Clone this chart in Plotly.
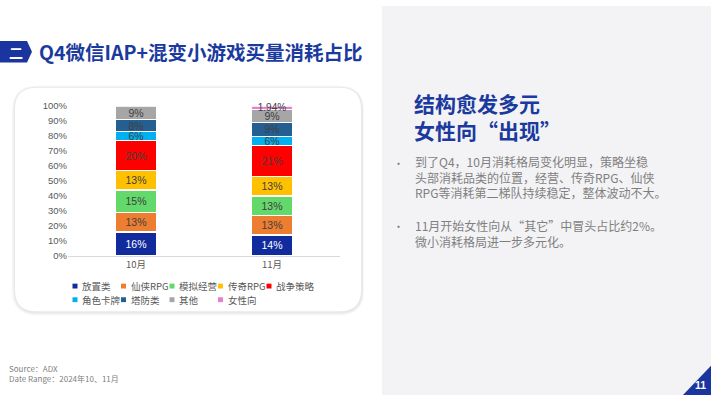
import plotly.graph_objects as go

W, H = 711, 400

months = ["10月", "11月"]
categories = ["放置类", "仙侠RPG", "模拟经营", "传奇RPG", "战争策略", "角色卡牌", "塔防类", "其他", "女性向"]
oct_values = [16, 13, 15, 13, 20, 6, 8, 9, None]
nov_values = [14, 13, 13, 13, 21, 6, 9, 9, 1.94]
colors = ["#112b9c", "#ed7d31", "#63d96b", "#ffc000", "#ff0000", "#00b0f0", "#255e91", "#a6a6a6", "#e67fce"]
y_ticks = [0, 10, 20, 30, 40, 50, 60, 70, 80, 90, 100]
y_tick_labels = [f"{t}%" for t in y_ticks]

title_text = "Q4微信IAP+混变小游戏买量消耗占比"
heading_lines = ["结构愈发多元", "女性向“出现”"]
bullet1 = ["到了Q4，10月消耗格局变化明显，策略坐稳", "头部消耗品类的位置，经营、传奇RPG、仙侠", "RPG等消耗第二梯队持续稳定，整体波动不大。"]
bullet2 = ["11月开始女性向从“其它”中冒头占比约2%。", "微小消耗格局进一步多元化。"]

CJK = "Noto Sans CJK SC, Liberation Sans, sans-serif"
LAT = "Liberation Sans, Arial, Noto Sans CJK SC, sans-serif"

def px(x):
    return x / W

def py(y):
    return 1 - y / H

def rrect(x0, y0, x1, y1, r):
    return (
        f"M {px(x0 + r)},{py(y0)} L {px(x1 - r)},{py(y0)} Q {px(x1)},{py(y0)} {px(x1)},{py(y0 + r)} "
        f"L {px(x1)},{py(y1 - r)} Q {px(x1)},{py(y1)} {px(x1 - r)},{py(y1)} "
        f"L {px(x0 + r)},{py(y1)} Q {px(x0)},{py(y1)} {px(x0)},{py(y1 - r)} "
        f"L {px(x0)},{py(y0 + r)} Q {px(x0)},{py(y0)} {px(x0 + r)},{py(y0)} Z"
    )

fig = go.Figure()

for i, cat in enumerate(categories):
    vals = [oct_values[i], nov_values[i]]
    txt = ["" if v is None else f"{v:g}%" for v in vals]
    fig.add_trace(go.Bar(
        name=cat, x=months, y=vals, text=txt,
        textposition="inside", insidetextanchor="middle", constraintext="none",
        textfont=dict(family=LAT, size=10 if i == 8 else 10.5, color="#ffffff" if i == 0 else "#404040"),
        marker=dict(color=colors[i], line=dict(color="#ffffff", width=1.2)),
        width=0.3, showlegend=False, cliponaxis=False,
    ))

shapes = []
shapes.append(dict(type="rect", xref="paper", yref="paper", x0=px(382), x1=1, y0=0, y1=1,
                   fillcolor="#f3f3f5", line=dict(width=0), layer="below"))
shapes.append(dict(type="path", xref="paper", yref="paper", path=rrect(12, 82, 364, 318, 25),
                   fillcolor="rgba(0,0,0,0.035)", line=dict(width=0), layer="below"))
shapes.append(dict(type="path", xref="paper", yref="paper", path=rrect(13.5, 83, 363, 316.5, 24),
                   fillcolor="rgba(0,0,0,0.05)", line=dict(width=0), layer="below"))
shapes.append(dict(type="path", xref="paper", yref="paper", path=rrect(15, 84, 361, 314, 22),
                   fillcolor="#ffffff", line=dict(width=0), layer="below"))
badge = f"M {px(0)},{py(36)} L {px(27)},{py(36)} L {px(32)},{py(47)} L {px(27)},{py(58)} L {px(0)},{py(58)} Z"
shapes.append(dict(type="path", xref="paper", yref="paper", path=badge,
                   fillcolor="#1a35a0", line=dict(width=0)))
tri = f"M {px(683)},{py(400)} L {px(711)},{py(370)} L {px(711)},{py(400)} Z"
shapes.append(dict(type="path", xref="paper", yref="paper", path=tri,
                   fillcolor="#1a35a0", line=dict(width=0)))

annotations = []
def ann(x, y, text, size, color, family=CJK, xanchor="left", yanchor="middle", bold=False, align="left"):
    t = f"<b>{text}</b>" if bold else text
    annotations.append(dict(x=px(x), y=py(y), xref="paper", yref="paper", text=t, showarrow=False,
                            xanchor=xanchor, yanchor=yanchor, align=align,
                            font=dict(family=family, size=size, color=color)))

ann(15.5, 47, "二", 14, "#ffffff", xanchor="center", bold=True)
ann(37, 47, title_text, 19.5, "#1b3a9e", bold=True)

for i, cat in enumerate(categories):
    row, col = divmod(i, 5)
    cx = 75 + 48.5 * col
    cy = 288 + 14 * row
    shapes.append(dict(type="rect", xref="paper", yref="paper",
                       x0=px(cx - 2.5), x1=px(cx + 2.5), y0=py(cy + 2.5), y1=py(cy - 2.5),
                       fillcolor=colors[i], line=dict(width=0)))
    ann(cx + 5, cy, cat, 9.5, "#595959")

ann(412, 113.5, "<br>".join(f"<b>{h}</b>" for h in heading_lines), 21, "#1b3a9e")
ann(413, 176, "<br>".join(bullet1), 12, "#7f7f7f")
ann(391, 161, "•", 11, "#7f7f7f")
ann(413, 233.5, "<br>".join(bullet2), 12, "#7f7f7f")
ann(391, 226, "•", 11, "#7f7f7f")

ann(7, 378, "Source：ADX<br>Date Range：2024年10、11月", 8, "#7f7f7f")
ann(700, 390, "11", 10.5, "#ffffff", family=LAT, xanchor="center", bold=True)

fig.update_layout(
    width=W, height=H,
    margin=dict(l=0, r=0, t=0, b=0),
    paper_bgcolor="#ffffff", plot_bgcolor="rgba(0,0,0,0)",
    barmode="stack", bargap=0.7,
    showlegend=False,
    shapes=shapes, annotations=annotations,
    xaxis=dict(domain=[px(68), px(340)], showline=True, linecolor="#d9d9d9", linewidth=1,
               showgrid=False, zeroline=False, ticks="",
               tickfont=dict(family=CJK, size=9.5, color="#595959"), fixedrange=True),
    yaxis=dict(domain=[py(257), py(103)], range=[0, 100], tickvals=y_ticks, ticktext=y_tick_labels,
               showgrid=False, zeroline=False, showline=False, ticks="",
               tickfont=dict(family=LAT, size=9.5, color="#595959"), fixedrange=True),
)

fig.write_html("out.html", config={"displayModeBar": False},
               post_script="document.body.style.margin='0';document.body.style.overflow='hidden';")
